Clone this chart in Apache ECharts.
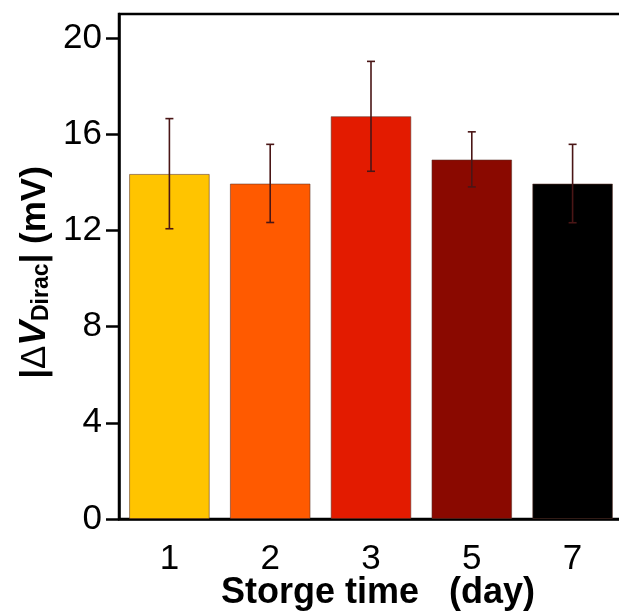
<!DOCTYPE html>
<html>
<head>
<meta charset="utf-8">
<script src="https://cdn.jsdelivr.net/npm/echarts@6/dist/echarts.min.js"></script>
<style>html,body{margin:0;padding:0;background:#fff;}#c{width:619px;height:613px;}</style>
</head>
<body>
<div id="c"></div>
<script>
const categories = ['1', '2', '3', '5', '7'];
const values = [14.35, 13.95, 16.75, 14.95, 13.95];
const errLow = [12.07, 12.33, 14.46, 13.81, 12.32];
const errHigh = [16.65, 15.58, 19.03, 16.10, 15.58];
const barColors = ['#FFC400', '#FF5A00', '#E31B00', '#8A0900', '#000000'];
const yTicks = [0, 4, 8, 12, 16, 20];

const FONT = 'Arial, "Liberation Sans", sans-serif';
const chart = echarts.init(document.getElementById('c'), null, {renderer: 'canvas'});

chart.setOption({
  animation: false,
  backgroundColor: '#fff',
  grid: {
    left: 119, top: 14, width: 504, height: 505,
    outerBoundsMode: 'none', containLabel: false,
    show: true, borderColor: '#000', borderWidth: 2.5, backgroundColor: 'transparent'
  },
  xAxis: {
    type: 'category',
    data: categories,
    axisLine: {lineStyle: {color: '#000', width: 2.5}},
    axisTick: {alignWithLabel: true, length: 15, lineStyle: {color: '#000', width: 2.5}},
    axisLabel: {color: '#000', fontFamily: FONT, fontSize: 35, margin: 23},
    name: 'Storge time   (day)',
    nameLocation: 'middle',
    nameGap: 56,
    nameMoveOverlap: false,
    nameTextStyle: {color: '#000', fontFamily: FONT, fontSize: 36, fontWeight: 'bold', padding: [0, 0, 0, 14]}
  },
  yAxis: {
    type: 'value',
    min: 0, max: 21, interval: 4,
    splitLine: {show: false},
    axisLine: {show: true, lineStyle: {color: '#000', width: 2.5}},
    axisTick: {show: true, length: 13, customValues: yTicks, lineStyle: {color: '#000', width: 2.5}},
    axisLabel: {color: '#000', fontFamily: FONT, fontSize: 35, margin: 17, customValues: yTicks},
    name: '{a||}{d|Δ}{v|V}{s|Dirac}{a|| (mV)}',
    nameLocation: 'middle',
    nameGap: 66,
    nameRotate: 90,
    nameMoveOverlap: false,
    nameTextStyle: {
      padding: [0, 12, 0, 0],
      rich: {
        a: {fontFamily: FONT, fontSize: 35, fontWeight: 'bold', color: '#000', lineHeight: 40, verticalAlign: 'bottom'},
        d: {fontFamily: FONT, fontSize: 35, fontWeight: 'normal', color: '#000', lineHeight: 40, verticalAlign: 'bottom'},
        v: {fontFamily: FONT, fontSize: 37, fontWeight: 'bold', fontStyle: 'italic', color: '#000', lineHeight: 40, verticalAlign: 'bottom'},
        s: {fontFamily: FONT, fontSize: 23, fontWeight: 'bold', color: '#000', lineHeight: 14, verticalAlign: 'bottom'}
      }
    }
  },
  series: [
    {
      type: 'bar',
      data: values.map((v, i) => ({value: v, itemStyle: {color: barColors[i]}})),
      barWidth: '80%',
      itemStyle: {borderColor: 'rgba(90,50,40,0.55)', borderWidth: 1},
      z: 2
    },
    {
      type: 'custom',
      data: categories.map((c, i) => [i, errLow[i], errHigh[i]]),
      z: 5,
      renderItem: function (params, api) {
        const lo = api.coord([api.value(0), api.value(1)]);
        const hi = api.coord([api.value(0), api.value(2)]);
        const hw = 4;
        const st = {stroke: '#4a1616', lineWidth: 1.6};
        return {
          type: 'group',
          children: [
            {type: 'line', shape: {x1: hi[0], y1: hi[1], x2: lo[0], y2: lo[1]}, style: st},
            {type: 'line', shape: {x1: hi[0] - hw, y1: hi[1], x2: hi[0] + hw, y2: hi[1]}, style: st},
            {type: 'line', shape: {x1: lo[0] - hw, y1: lo[1], x2: lo[0] + hw, y2: lo[1]}, style: st}
          ]
        };
      }
    }
  ]
});
</script>
</body>
</html>
